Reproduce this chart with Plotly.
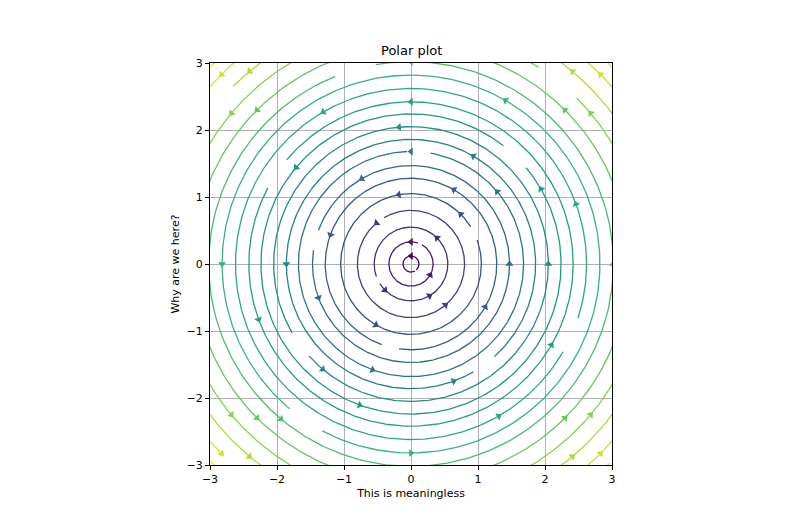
import numpy as np
import plotly.graph_objects as go
import plotly.colors as pc

# streamline radii (field U=-y, V=x; speed = radius)
radii = [0.12, 0.33, 0.55, 0.8, 1.05, 1.28, 1.47, 1.68, 1.86, 2.05, 2.24, 2.42, 2.62, 2.82, 3.02, 3.25, 3.5, 3.75, 4.0, 4.2]
# gap start angle (deg) and arrow angles (deg) for each streamline
gap_start = [300, 60, 200, 120, 20, 250, 160, 80, 300, 210, 40, 140, 330, 230, 100, 10, 45, 135, 225, 315]
arrow_angles = [[90], [90, 330], [45, 225, 300], [130, 310], [100, 240, 45], [160, 330, 60],
                [0, 200, 120], [90, 250, 40], [180, 290, 60], [95, 0, 230], [30, 140, 250],
                [90, 200, 330], [120, 300, 20], [60, 180, 270], [90, 0, 230], [45, 135, 225, 315],
                [40, 140, 220, 320], [50, 130, 230, 310], [45, 135, 225, 315], [40, 140, 220, 320]]
cmax = 4.3

fig = go.Figure()
for r, g, arrs in zip(radii, gap_start, arrow_angles):
    col = pc.sample_colorscale("Viridis", [min(r / cmax, 1)])[0]
    t = np.radians(np.linspace(g + 12, g + 360, 400))
    fig.add_trace(go.Scatter(x=r * np.cos(t), y=r * np.sin(t), mode="lines",
                             line=dict(color=col, width=1.3), hoverinfo="skip", showlegend=False))
    a = np.radians(np.array(arrs, dtype=float))
    ax, ay = r * np.cos(a), r * np.sin(a)
    dx, dy = -np.sin(a), np.cos(a)
    ang = np.degrees(np.arctan2(dx, dy))
    fig.add_trace(go.Scatter(x=ax, y=ay, mode="markers",
                             marker=dict(symbol="triangle-up", size=7, color=col, angle=ang),
                             hoverinfo="skip", showlegend=False))

axis = dict(range=[-3, 3], tickvals=[-3, -2, -1, 0, 1, 2, 3], showgrid=True, gridcolor="#b0b0b0",
            gridwidth=1, zeroline=False, showline=True, linecolor="black", mirror=True,
            ticks="outside", ticklen=4, tickcolor="black", tickfont=dict(size=11, color="black"),
            automargin=False)
fig.update_layout(
    width=800, height=521, plot_bgcolor="white", paper_bgcolor="white",
    margin=dict(l=202, r=196, t=55, b=64),
    font=dict(family="DejaVu Sans", color="black"),
    annotations=[dict(text="Polar plot", x=0.5, xref="paper", y=1, yref="paper", yanchor="bottom",
                      yshift=3, showarrow=False, font=dict(size=13))],
    xaxis=dict(axis, title=dict(text="This is meaningless", font=dict(size=11), standoff=4)),
    yaxis=dict(axis, title=dict(text="Why are we here?", font=dict(size=11), standoff=4),
               scaleanchor="x", scaleratio=1),
)
fig.write_html("out.html")
